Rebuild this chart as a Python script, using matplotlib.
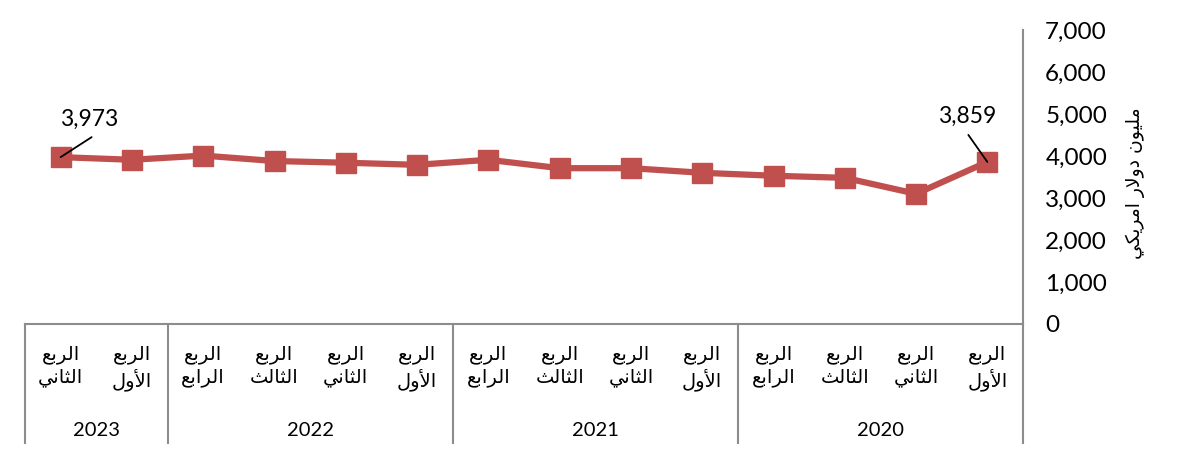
import matplotlib
matplotlib.use("Agg")
import matplotlib.pyplot as plt
from matplotlib.lines import Line2D
from matplotlib.ticker import FuncFormatter

plt.rcParams['font.family'] = ['Lato', 'DejaVu Sans']

# ---- data (chronological: 2020 Q1 ... 2023 Q2) ----
years = ['2020', '2021', '2022', '2023']
quarters_per_year = [4, 4, 4, 2]
quarter_names = ['الربع\nالأول', 'الربع\nالثاني', 'الربع\nالثالث', 'الربع\nالرابع']
values = [3859, 3100, 3480, 3530, 3600, 3710, 3710, 3910, 3790, 3840, 3880, 4010, 3910, 3973]
y_label = 'مليون دولار امريكي'
y_ticks = [0, 1000, 2000, 3000, 4000, 5000, 6000, 7000]

# ---- minimal Arabic shaping (matplotlib has no shaping engine) ----
AR = {
    'ا': (0xFE8D, 0xFE8E, None, None),
    'أ': (0xFE83, 0xFE84, None, None),
    'د': (0xFEA9, 0xFEAA, None, None),
    'ر': (0xFEAD, 0xFEAE, None, None),
    'و': (0xFEED, 0xFEEE, None, None),
    'ب': (0xFE8F, 0xFE90, 0xFE91, 0xFE92),
    'ث': (0xFE99, 0xFE9A, 0xFE9B, 0xFE9C),
    'ع': (0xFEC9, 0xFECA, 0xFECB, 0xFECC),
    'ل': (0xFEDD, 0xFEDE, 0xFEDF, 0xFEE0),
    'ن': (0xFEE5, 0xFEE6, 0xFEE7, 0xFEE8),
    'ي': (0xFEF1, 0xFEF2, 0xFEF3, 0xFEF4),
    'م': (0xFEE1, 0xFEE2, 0xFEE3, 0xFEE4),
    'ك': (0xFED9, 0xFEDA, 0xFEDB, 0xFEDC),
    'لا': (0xFEFB, 0xFEFC, None, None),
    'لأ': (0xFEF7, 0xFEF8, None, None),
}


def shape_line(s):
    units = []
    i = 0
    while i < len(s):
        if s[i] == 'ل' and i + 1 < len(s) and s[i + 1] in 'اأ':
            units.append(s[i:i + 2])
            i += 2
        else:
            units.append(s[i])
            i += 1
    out = []
    for k, u in enumerate(units):
        if u not in AR:
            out.append(u)
            continue
        f = AR[u]
        prev = units[k - 1] if k > 0 else None
        nxt = units[k + 1] if k + 1 < len(units) else None
        jp = prev in AR and AR[prev][2] is not None
        jn = f[2] is not None and nxt in AR
        if jp and jn:
            c = f[3]
        elif jp:
            c = f[1]
        elif jn:
            c = f[2]
        else:
            c = f[0]
        out.append(chr(c))
    return ''.join(reversed(out))


def shape(s):
    return '\n'.join(shape_line(l) for l in s.split('\n'))


# ---- figure ----
W, H = 1198, 461
fig = plt.figure(figsize=(W / 100, H / 100), dpi=100)
L, R, T, B = 25, 1023, 30, 324
ax = fig.add_axes([L / W, 1 - B / H, (R - L) / W, (B - T) / H])

n = len(values)
x = list(range(n))
color = '#C0504D'
ax.plot(x, values, color=color, lw=4.5, marker='s', ms=14, mfc=color, mec=color,
        solid_capstyle='round', zorder=3)

ax.set_xlim(n - 0.5, -0.5)
ax.set_ylim(0, 7000)
ax.set_yticks(y_ticks)
ax.yaxis.set_major_formatter(FuncFormatter(lambda v, p: f'{int(v):,}'))
ax.yaxis.tick_right()
ax.tick_params(axis='y', length=0, pad=16, labelsize=17.5, labelcolor='black')
ax.set_xticks([])

gray = '#8C8C8C'
for s in ['top', 'left']:
    ax.spines[s].set_visible(False)
for s in ['right', 'bottom']:
    ax.spines[s].set_color(gray)
    ax.spines[s].set_linewidth(1.5)

# y label
ax.text((1135 - L) / (R - L), 0.48, shape(y_label), transform=ax.transAxes,
        rotation=90, ha='center', va='center', fontsize=13.5, family=['DejaVu Sans'])

# category labels
tr = ax.get_xaxis_transform()
qi = 0
for yname, cnt in zip(years, quarters_per_year):
    start = qi
    for q in range(cnt):
        ax.annotate(shape(quarter_names[q]), xy=(qi, 0), xycoords=tr,
                    xytext=(0, -21), textcoords='offset pixels',
                    ha='center', va='top', fontsize=14, linespacing=1.25,
                    family=['DejaVu Sans'], annotation_clip=False)
        qi += 1
    ax.annotate(yname, xy=((start + qi - 1) / 2, 0), xycoords=tr,
                xytext=(0, -106), textcoords='offset pixels',
                ha='center', va='center', fontsize=14.5, annotation_clip=False)

# divider lines
bounds = [-0.5]
acc = -0.5
for cnt in quarters_per_year:
    acc += cnt
    bounds.append(acc)
yb = -(443 - B) / (B - T)
for b in bounds:
    ax.add_line(Line2D([b, b], [0, yb], transform=tr, color=gray, lw=1.5, clip_on=False))

# data labels for last and first point
i_last = n - 1
ax.annotate('', xy=(i_last, values[i_last]), xytext=(31, 20), textcoords='offset pixels',
            arrowprops=dict(arrowstyle='-', color='black', lw=1.3, shrinkA=0, shrinkB=0))
ax.annotate(f'{values[i_last]:,}', xy=(i_last, values[i_last]), xytext=(28, 38),
            textcoords='offset pixels', ha='center', va='center', fontsize=16.5)
i0 = 0
ax.annotate('', xy=(i0, values[i0]), xytext=(-19, 27), textcoords='offset pixels',
            arrowprops=dict(arrowstyle='-', color='black', lw=1.3, shrinkA=0, shrinkB=0))
ax.annotate(f'{values[i0]:,}', xy=(i0, values[i0]), xytext=(-20, 46),
            textcoords='offset pixels', ha='center', va='center', fontsize=16.5)

fig.savefig('out.png', dpi=100)
